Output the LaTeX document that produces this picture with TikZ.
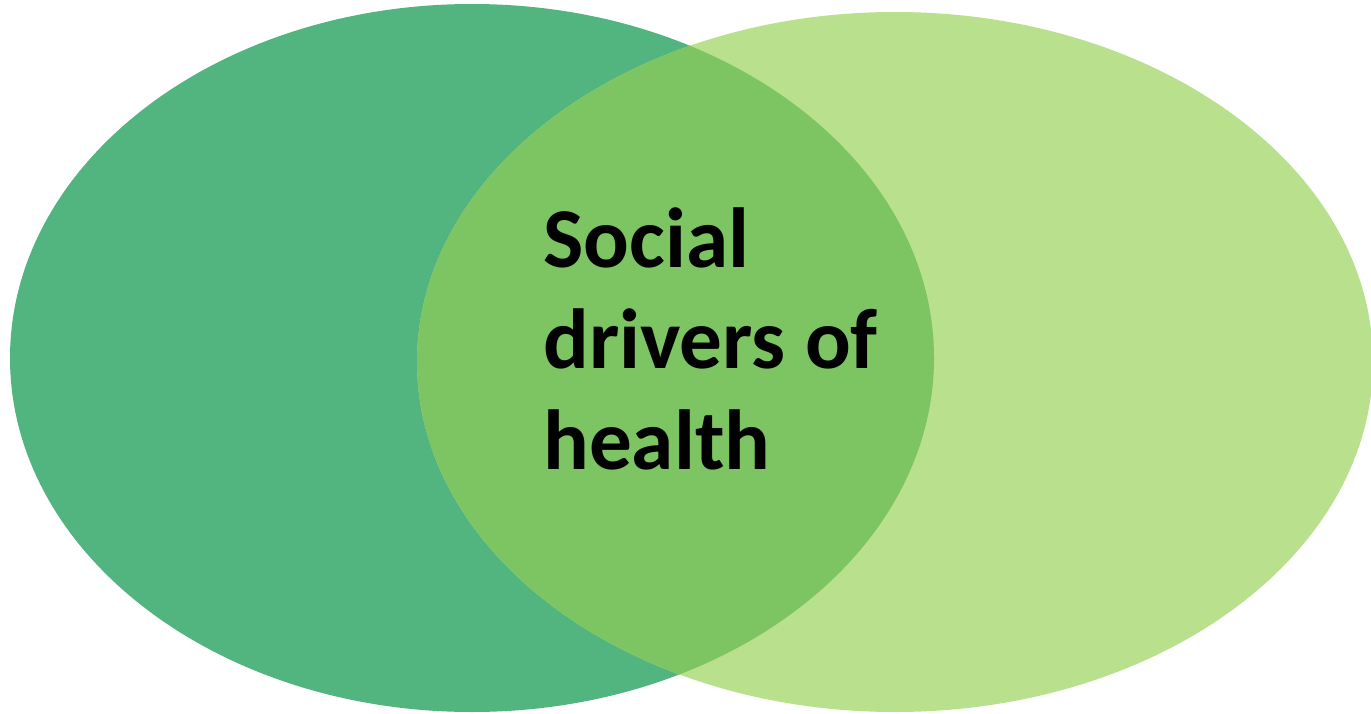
\documentclass[tikz,border=0pt]{standalone}
\usepackage{fontspec}
\setmainfont{Carlito}
\usetikzlibrary{positioning}

\definecolor{leftgreen}{HTML}{52B47F}
\definecolor{rightgreen}{HTML}{B9E08D}
\definecolor{midgreen}{HTML}{7DC562}

\begin{document}
\begin{tikzpicture}[x=0.02cm,y=-0.02cm]
    \useasboundingbox (0,0) rectangle (1371,713);

    \begin{scope}
      \fill[leftgreen] (472,358) ellipse [x radius=462,y radius=354];
      \fill[rightgreen] (895,362) ellipse [x radius=478,y radius=350];
      \clip (472,358) ellipse [x radius=462,y radius=354];
      \fill[midgreen] (895,362) ellipse [x radius=478,y radius=350];
    \end{scope}

    \begin{scope}[every node/.style={inner sep=0pt,align=left,font=\bfseries\fontsize{48.5}{57.3}\selectfont}]
      \node[anchor=base west] (sdoh) at (543,469) {Social\\drivers of\\health};
    \end{scope}
  \end{tikzpicture}
\end{document}
